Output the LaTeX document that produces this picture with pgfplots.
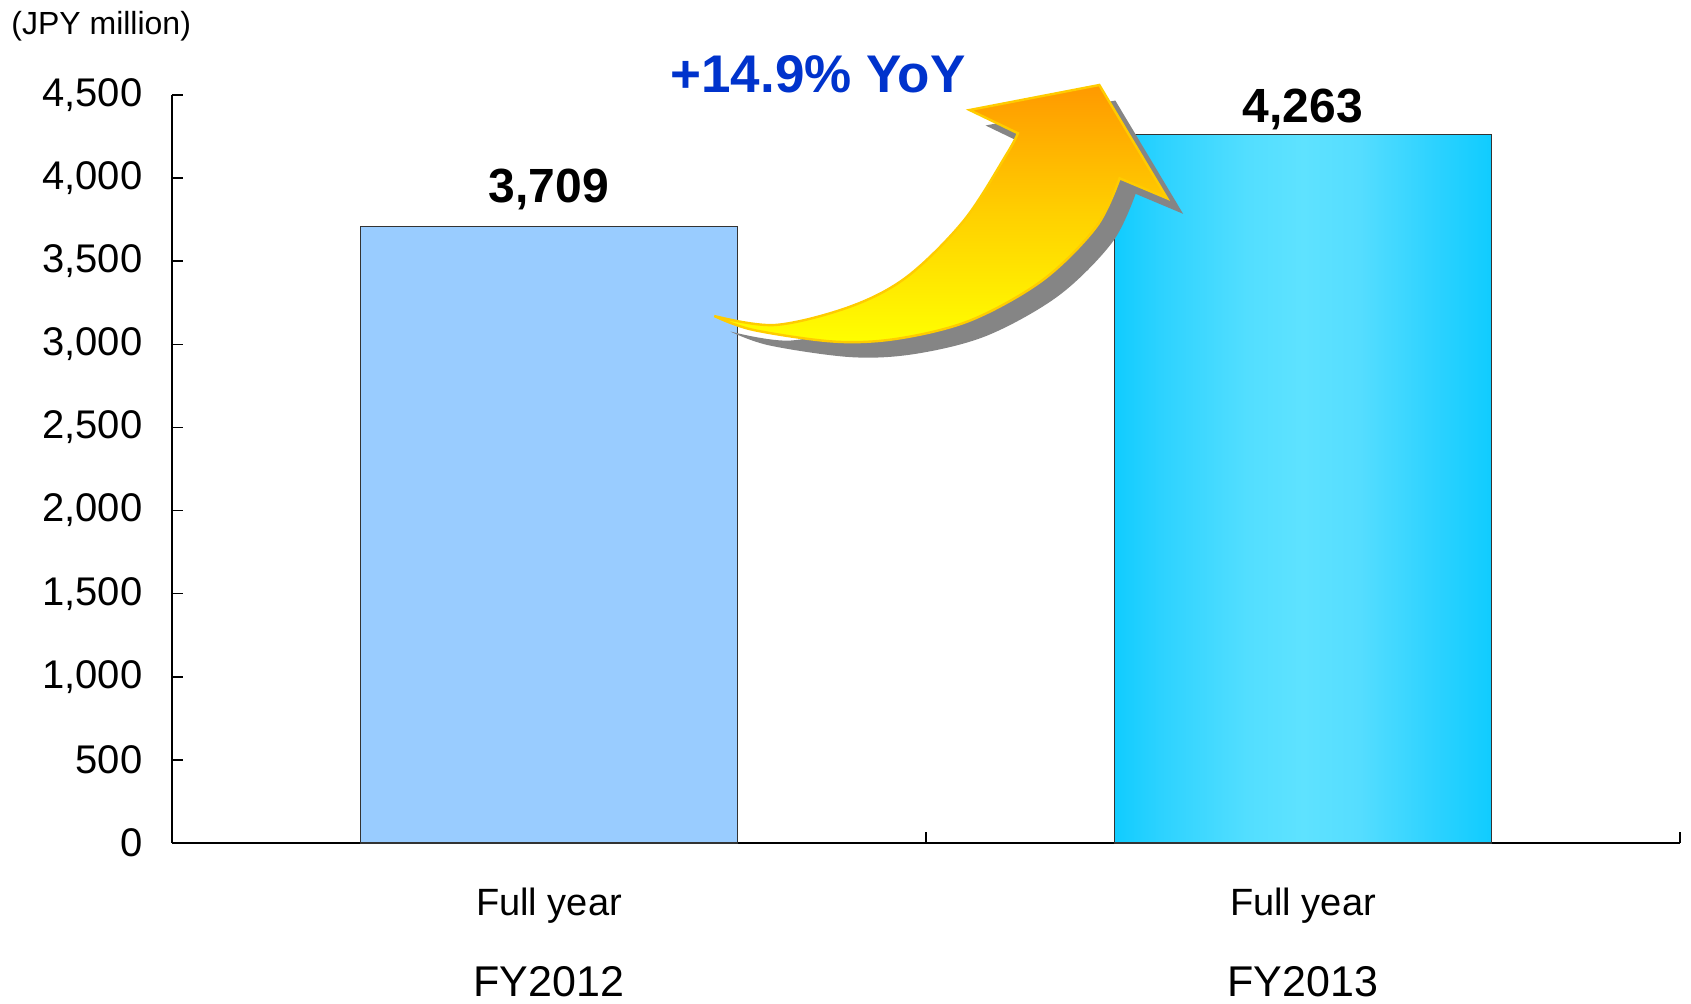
\documentclass[border=0pt]{standalone}
\usepackage{pgfplots}
\pgfplotsset{compat=1.18}
\usepackage{fontspec}
\setmainfont{Liberation Sans}
\definecolor{barA}{HTML}{99CCFF}
\definecolor{cy0}{HTML}{10CCFF}
\definecolor{cy1}{HTML}{2CD2FF}
\definecolor{cy2}{HTML}{52DEFF}
\definecolor{cy3}{HTML}{5EE2FF}
\definecolor{cy4}{HTML}{55DDFF}
\definecolor{yoy}{HTML}{0033CC}
\definecolor{arrowtop}{HTML}{FF9900}
\definecolor{arrowmid}{HTML}{FFD000}
\definecolor{arrowbot}{HTML}{FFFF00}
\definecolor{arrowline}{HTML}{FFCC00}
\definecolor{shadowgray}{HTML}{858585}
% TikZ fits the path's bounding box to the 25bp..75bp part of a 100bp shading
\pgfdeclarehorizontalshading{cyanbar}{100bp}{color(0bp)=(cy0); color(25bp)=(cy0); color(31bp)=(cy1); color(42.5bp)=(cy2); color(50bp)=(cy3); color(57.5bp)=(cy4); color(67.5bp)=(cy1); color(75bp)=(cy0); color(100bp)=(cy0)}
\pgfplotstableread{
x y
0 3709
}\fya
\pgfplotstableread{
x y
1 4263
}\fyb
\newcommand{\arrowpath}{(714.3,316) -- plot[smooth,tension=0.55] coordinates {(714.3,316) (753.6,330) (835.7,341.7) (900,338.3) (971.4,320) (1042.9,280) (1096.4,226.7) (1119.6,178.3)} -- (1167.1,198.3) -- (1099.3,85) -- (969.6,110) -- (1017.9,133.3) -- plot[smooth,tension=0.55] coordinates {(1017.9,133.3) (1007.1,153.3) (964.3,220) (907.1,276.7) (850,306.7) (775,325) (714.3,316)} -- cycle}
\begin{document}
\begin{tikzpicture}
\begin{axis}[
  at={(0,0)}, anchor=south west,
  scale only axis, width=754pt, height=374pt,
  xmin=-0.5, xmax=1.5, ymin=0, ymax=4500,
  ytick={0,500,...,4500},
  scaled y ticks=false,
  /pgf/number format/assume math mode=true,
  /pgf/number format/1000 sep={,},
  axis x line*=bottom, axis y line*=left,
  x axis line style={line width=1.4pt},
  y axis line style={line width=0.8pt},
  tick align=inside,
  major tick length=5.5pt,
  y tick style={black, line width=0.8pt},
  xtick={0,1},
  xticklabels={{\fontsize{19}{40.5}\selectfont Full year\\\fontsize{21.5}{40.5}\selectfont FY2012},{\fontsize{19}{40.5}\selectfont Full year\\\fontsize{21.5}{40.5}\selectfont FY2013}},
  x tick style={draw=none},
  xticklabel style={align=center, font=\fontsize{20}{40.5}\selectfont, yshift=-13.2pt},
  yticklabel style={font=\fontsize{20}{24}\selectfont, xshift=-11.3pt},
  ybar, bar width=0.5,
  clip=false,
]
\addplot[bar shift=0pt, fill=barA, draw=black!80, line width=0.6pt,
  nodes near coords,
  every node near coord/.append style={anchor=base, yshift=12pt, font=\bfseries\fontsize{24}{28}\selectfont, text=black}]
  table[x=x,y=y] {\fya};
\addplot[bar shift=0pt, shade, shading=cyanbar, draw=black!80, line width=0.6pt,
  nodes near coords,
  every node near coord/.append style={anchor=base, yshift=5.8pt, font=\bfseries\fontsize{24}{28}\selectfont, text=black}]
  table[x=x,y=y] {\fyb};
% category separator ticks on the x axis, pointing up into the plot
\draw[black, line width=0.6pt] (axis cs:0.5,0) -- ++(0pt,5.5pt);
\draw[black, line width=0.6pt] (axis cs:1.5,0) -- ++(0pt,5.5pt);
\end{axis}
\begin{scope}[x=0.5pt, y=-0.5pt, shift={(-172,-843)}]
  \begin{scope}[shift={(16,15.5)}]
    \fill[shadowgray] \arrowpath;
  \end{scope}
  \path[top color=arrowtop, bottom color=arrowbot, middle color=arrowmid, draw=arrowline, line width=1.2pt] \arrowpath;
  \node[anchor=base west, inner sep=0pt, font=\bfseries\fontsize{26.5}{30}\selectfont, text=yoy] at (670,93) {+14.9\% YoY};
  \node[anchor=base west, inner sep=0pt, font=\fontsize{16}{19}\selectfont] at (11,35) {(JPY million)};
  \pgfresetboundingbox
  \path[use as bounding box] (0,0) rectangle (1691,1003);
\end{scope}
\end{tikzpicture}
\end{document}
